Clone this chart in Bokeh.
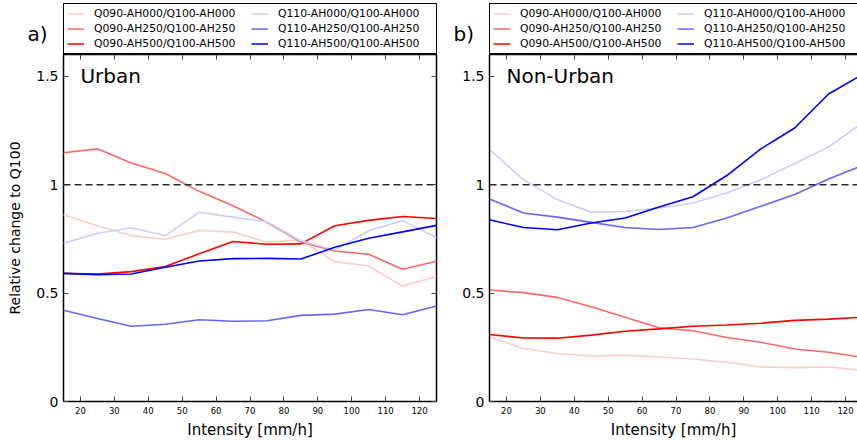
from bokeh.plotting import figure
from bokeh.models import (Range1d, LinearAxis, FixedTicker, Span, Label, Legend, LegendItem,
                          CustomJSTickFormatter)
from bokeh.layouts import row, column
from bokeh.embed import file_html
from bokeh.resources import INLINE

# ---------------- data ----------------
intensity = [15, 25, 35, 45, 55, 65, 75, 85, 95, 105, 115, 125]

series_labels = ["Q090-AH000/Q100-AH000", "Q090-AH250/Q100-AH250", "Q090-AH500/Q100-AH500",
                 "Q110-AH000/Q100-AH000", "Q110-AH250/Q100-AH250", "Q110-AH500/Q100-AH500"]
series_colors = ["#ffcccc", "#ff6666", "#ff0000", "#ccccff", "#6666ff", "#0000ff"]

# Urban
urban_q090_ah000 = [0.861, 0.810, 0.765, 0.748, 0.789, 0.781, 0.735, 0.745, 0.645, 0.625, 0.532, 0.576]
urban_q090_ah250 = [1.147, 1.165, 1.100, 1.051, 0.969, 0.903, 0.826, 0.735, 0.694, 0.679, 0.610, 0.647]
urban_q090_ah500 = [0.591, 0.588, 0.599, 0.622, 0.681, 0.738, 0.725, 0.727, 0.810, 0.835, 0.853, 0.844]
urban_q110_ah000 = [0.730, 0.776, 0.801, 0.764, 0.873, 0.850, 0.829, 0.740, 0.699, 0.787, 0.833, 0.756]
urban_q110_ah250 = [0.421, 0.383, 0.347, 0.356, 0.377, 0.370, 0.372, 0.397, 0.403, 0.424, 0.400, 0.440]
urban_q110_ah500 = [0.591, 0.585, 0.588, 0.619, 0.648, 0.659, 0.660, 0.657, 0.711, 0.753, 0.782, 0.812]

# Non-Urban
nonurban_q090_ah000 = [0.298, 0.244, 0.221, 0.210, 0.214, 0.205, 0.196, 0.181, 0.159, 0.156, 0.159, 0.144]
nonurban_q090_ah250 = [0.514, 0.502, 0.480, 0.437, 0.388, 0.340, 0.326, 0.295, 0.273, 0.242, 0.227, 0.204]
nonurban_q090_ah500 = [0.309, 0.293, 0.292, 0.306, 0.324, 0.335, 0.347, 0.353, 0.361, 0.374, 0.380, 0.389]
nonurban_q110_ah000 = [1.162, 1.023, 0.931, 0.873, 0.876, 0.892, 0.915, 0.961, 1.023, 1.097, 1.174, 1.285]
nonurban_q110_ah250 = [0.934, 0.869, 0.850, 0.826, 0.802, 0.793, 0.802, 0.846, 0.900, 0.954, 1.026, 1.088]
nonurban_q110_ah500 = [0.838, 0.802, 0.792, 0.823, 0.846, 0.897, 0.944, 1.042, 1.165, 1.261, 1.418, 1.508]

x_ticks = [20, 30, 40, 50, 60, 70, 80, 90, 100, 110, 120]
y_ticks = [0, 0.5, 1, 1.5]
y_tick_labels = ["0", "0.5", "1", "1.5"]
reference_level = 1.0

urban_series = [urban_q090_ah000, urban_q090_ah250, urban_q090_ah500,
                urban_q110_ah000, urban_q110_ah250, urban_q110_ah500]
nonurban_series = [nonurban_q090_ah000, nonurban_q090_ah250, nonurban_q090_ah500,
                   nonurban_q110_ah000, nonurban_q110_ah250, nonurban_q110_ah500]

FONT = "DejaVu Sans"
TOTAL_W = 857
HEAD_H = 54
HEAD_Y0 = 100          # header y-range starts well above the data, so legend proxies stay hidden
PLOT_H = 388
PX_PER_UNIT = 373 / 110.0
A_W, A_LEFT, A_FRAME = 446, 63, 373
B_W, B_LEFT, B_FRAME = 411, 43, 368


def style_axis(ax, labels=True, line=False):
    ax.major_tick_in = 5
    ax.major_tick_out = 0
    ax.minor_tick_in = 0
    ax.minor_tick_out = 0
    ax.major_tick_line_color = "#444444"
    ax.major_tick_line_width = 1
    ax.axis_line_color = "black" if line else None
    ax.axis_line_width = 1.5
    ax.major_label_text_font = FONT
    ax.axis_label_text_font = FONT
    ax.axis_label_text_font_style = "normal"
    ax.axis_label_text_color = "black"
    ax.major_label_text_color = "black"
    if not labels:
        ax.formatter = CustomJSTickFormatter(code="return ''")
        ax.major_label_standoff = 0
        ax.major_label_text_font_size = "1px"


def make_legend(head, series, left):
    items = []
    for vals, lab, col in zip(series, series_labels, series_colors):
        # legend proxy: same data, outside the header's y-range so it is not drawn there
        r = head.line(intensity, vals, line_color=col, line_width=1.5)
        items.append(LegendItem(label=lab, renderers=[r]))
    legend = Legend(items=items, location=(left, 0), orientation="vertical", nrows=3,
                    margin=0, padding=3, spacing=2,
                    border_line_color="black", border_line_width=1.5, border_line_alpha=1,
                    background_fill_color="white", background_fill_alpha=1,
                    label_text_font=FONT, label_text_font_size="10.8px", label_text_color="black",
                    glyph_width=17, glyph_height=11, label_height=11,
                    label_width=155, label_standoff=10)
    head.add_layout(legend)


def make_head():
    h = figure(width=TOTAL_W, height=HEAD_H, x_range=Range1d(0, TOTAL_W),
               y_range=Range1d(HEAD_Y0, HEAD_Y0 + HEAD_H),
               output_backend="svg", toolbar_location=None, title=None,
               x_axis_location=None, y_axis_location=None,
               min_border_left=0, min_border_right=0, min_border_top=0, min_border_bottom=0)
    h.grid.visible = False
    h.outline_line_color = None
    h.background_fill_color = "white"
    h.border_fill_color = "white"
    make_legend(h, urban_series, A_LEFT)
    make_legend(h, nonurban_series, A_W + B_LEFT)
    for tag, left in (("a)", A_LEFT), ("b)", A_W + B_LEFT)):
        h.add_layout(Label(x=left - 36, y=HEAD_Y0 + HEAD_H - 33, text=tag, text_font=FONT,
                           text_font_size="20px", text_color="black",
                           text_baseline="middle", text_align="left"))
    return h


def make_plot(series, width, border_left, border_right, frame_w, name, ylabel, outline):
    x_end = 15 + frame_w / PX_PER_UNIT
    p = figure(width=width, height=PLOT_H, x_range=Range1d(15, x_end), y_range=Range1d(0, 1.6),
               output_backend="svg", toolbar_location=None, title=None,
               x_axis_location=None, y_axis_location=None,
               min_border_left=border_left, min_border_right=border_right,
               min_border_top=0, min_border_bottom=41)
    p.grid.visible = False
    p.background_fill_color = "white"
    p.border_fill_color = "white"
    if outline:
        p.outline_line_color = "black"
        p.outline_line_width = 1.5
    else:
        p.outline_line_color = None

    yl = {v: s for v, s in zip(y_ticks, y_tick_labels)}

    xb = LinearAxis(ticker=FixedTicker(ticks=x_ticks), axis_label="Intensity [mm/h]")
    style_axis(xb, line=not outline)
    xb.major_label_text_font_size = "8.5px"
    xb.major_label_standoff = 5
    xb.axis_label_text_font_size = "15px"
    xb.axis_label_standoff = 4
    p.add_layout(xb, "below")

    yax = LinearAxis(ticker=FixedTicker(ticks=y_ticks), major_label_overrides=yl)
    style_axis(yax, line=not outline)
    yax.major_label_text_font_size = "14px"
    yax.major_label_standoff = 5
    if ylabel:
        yax.axis_label = ylabel
        yax.axis_label_text_font_size = "14px"
        yax.axis_label_standoff = 10
    p.add_layout(yax, "left")

    xt = LinearAxis(ticker=FixedTicker(ticks=x_ticks))
    style_axis(xt, labels=False, line=not outline)
    p.add_layout(xt, "above")

    if outline:
        yr = LinearAxis(ticker=FixedTicker(ticks=y_ticks))
        style_axis(yr, labels=False)
        p.add_layout(yr, "right")

    p.add_layout(Span(location=reference_level, dimension="width", line_color="#2a2a2a",
                      line_dash="7 4", line_width=1.5))

    for vals, col in zip(series, series_colors):
        p.line(intensity, vals, line_color=col, line_width=1.6)

    p.add_layout(Label(x=20, y=1.5, text=name, text_font=FONT, text_font_size="20px",
                       text_color="black", text_baseline="middle", text_align="left"))
    return p


head = make_head()
plot_a = make_plot(urban_series, A_W, A_LEFT, A_W - A_LEFT - A_FRAME, A_FRAME,
                   "Urban", "Relative change to Q100", True)
plot_b = make_plot(nonurban_series, B_W, B_LEFT, B_W - B_LEFT - B_FRAME, B_FRAME,
                   "Non-Urban", None, False)

layout = column(head, row(plot_a, plot_b))
open("out.html", "w").write(file_html(layout, INLINE))
